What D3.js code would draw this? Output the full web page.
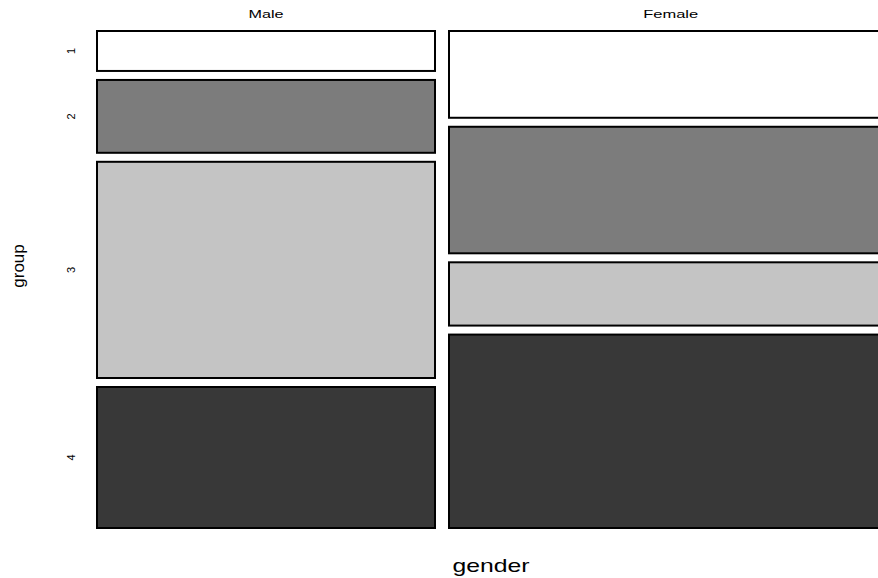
<!DOCTYPE html>
<html><head><meta charset="utf-8">
<script src="https://cdn.jsdelivr.net/npm/d3@7"></script>
<style>body{margin:0;background:#fff}svg{display:block}</style>
</head><body>
<script>
const genders = ["Male", "Female"];
const groups = ["1", "2", "3", "4"];
const maleCounts = [17, 31, 92, 60];
const femaleCounts = [48, 70, 35, 107];
const fills = ["#ffffff", "#7c7c7c", "#c4c4c4", "#383838"];

(function () {
  const W = 878, H = 578;
  const svg = d3.select("body").append("svg").attr("width", W).attr("height", H);
  const counts = [maleCounts, femaleCounts];
  const totals = counts.map(c => d3.sum(c));
  const grand = d3.sum(totals);

  const leftX = 97, gapX = 14, unit = 1.69;
  const x = d3.scaleLinear().domain([0, grand]).range([leftX, leftX + grand * unit]);
  const topY = 31, bottomY = 528, gapY = 9;

  const font = "Liberation Sans, Arial, sans-serif";
  const stripW = [35, 55];
  let cum = 0;
  genders.forEach((g, gi) => {
    const x0 = x(cum) + gi * gapX, x1 = x(cum + totals[gi]) + gi * gapX;
    cum += totals[gi];
    const avail = bottomY - topY - gapY * (groups.length - 1);
    const y = d3.scaleLinear().domain([0, totals[gi]]).range([0, avail]);
    let c = 0;
    counts[gi].forEach((v, k) => {
      const y0 = topY + y(c) + k * gapY, y1 = topY + y(c + v) + k * gapY;
      c += v;
      svg.append("rect").attr("x", x0).attr("y", y0).attr("width", x1 - x0).attr("height", y1 - y0)
        .attr("fill", fills[k]).attr("stroke", "#000").attr("stroke-width", 2);
      if (gi === 0) {
        const cy = (y0 + y1) / 2;
        svg.append("text").attr("transform", `translate(75,${cy}) rotate(-90)`)
          .attr("text-anchor", "middle").attr("font-family", font).attr("font-size", 11).attr("fill", "#000").text(groups[k]);
      }
    });
    const cx = gi === 0 ? (x0 + x1) / 2 : (x0 + x1) / 2 + 2;
    svg.append("text").attr("x", cx).attr("y", 18).attr("text-anchor", "middle")
      .attr("font-family", font).attr("font-size", 10).attr("fill", "#000")
      .attr("textLength", stripW[gi]).attr("lengthAdjust", "spacingAndGlyphs").text(g);
  });

  svg.append("text").attr("transform", "translate(24,266) rotate(-90)").attr("text-anchor", "middle")
    .attr("font-family", font).attr("font-size", 17).attr("fill", "#000").text("group");
  svg.append("text").attr("x", 491).attr("y", 572).attr("text-anchor", "middle")
    .attr("font-family", font).attr("font-size", 19).attr("fill", "#000")
    .attr("textLength", 77).attr("lengthAdjust", "spacingAndGlyphs").text("gender");
})();
</script>
</body></html>
